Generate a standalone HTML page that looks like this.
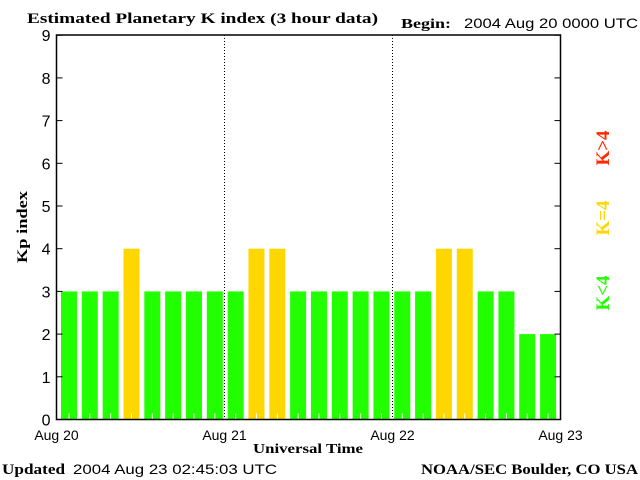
<!DOCTYPE html>
<html><head><meta charset="utf-8"><style>
body{margin:0;background:#fff;}
svg{display:block;}
.ser{font-family:"Liberation Serif",serif;font-weight:bold;}
.san{font-family:"Liberation Sans",sans-serif;}
</style></head><body>
<svg id="c" width="640" height="480" xmlns="http://www.w3.org/2000/svg">
<text class="ser" x="27" y="23" font-size="15" textLength="351" lengthAdjust="spacingAndGlyphs">Estimated Planetary K index (3 hour data)</text>
<text class="ser" x="401" y="28" font-size="14" textLength="50" lengthAdjust="spacingAndGlyphs">Begin:</text>
<text class="san" x="464" y="28" font-size="14" textLength="174" lengthAdjust="spacingAndGlyphs">2004 Aug 20 0000 UTC</text>
<g id="bars"></g>
<g id="axes"></g>
<text class="ser" x="0" y="0" font-size="15" transform="translate(27,227) rotate(-90)" text-anchor="middle" textLength="72" lengthAdjust="spacingAndGlyphs">Kp index</text>
<text class="ser" x="253" y="453" font-size="14" textLength="110" lengthAdjust="spacingAndGlyphs">Universal Time</text>
<text class="ser" x="2" y="474" font-size="15" textLength="63" lengthAdjust="spacingAndGlyphs">Updated</text>
<text class="san" x="73" y="474" font-size="14" textLength="204" lengthAdjust="spacingAndGlyphs">2004 Aug 23 02:45:03 UTC</text>
<text class="ser" x="421" y="474" font-size="15" textLength="217" lengthAdjust="spacingAndGlyphs">NOAA/SEC Boulder, CO USA</text>
<text class="ser" font-size="19" fill="#ff2a00" transform="translate(609,148) rotate(-90)" text-anchor="middle">K&gt;4</text>
<text class="ser" font-size="19" fill="#ffd700" transform="translate(609,218) rotate(-90)" text-anchor="middle">K=4</text>
<text class="ser" font-size="19" fill="#22ff00" transform="translate(609,293) rotate(-90)" text-anchor="middle">K&lt;4</text>
</svg>
<script>
const kpValues=[3,3,3,4,3,3,3,3,3,4,4,3,3,3,3,3,3,3,4,4,3,3,2,2];
const yTicks=[0,1,2,3,4,5,6,7,8,9];
const dayLabels=["Aug 20","Aug 21","Aug 22","Aug 23"];
const NS="http://www.w3.org/2000/svg";
const L=56.5,R=560.5,T=35,B=419.5;
const ys=v=>B-v*42.7;
const pitch=20.83;
const xs=i=>61+i*pitch;
function mk(t,a,p){const e=document.createElementNS(NS,t);for(const k in a)e.setAttribute(k,a[k]);p.appendChild(e);return e;}
const bars=document.getElementById('bars'),ax=document.getElementById('axes');
kpValues.forEach((v,i)=>{
 const col=v>4?'#ff2a00':(v==4?'#ffd700':'#22ff00');
 const r=mk('rect',{x:xs(i),y:ys(v),width:16,height:B-ys(v),fill:col},bars);
 
 
 const t=mk('line',{x1:xs(i)+8,x2:xs(i)+8,y1:B-6,y2:B,stroke:'#fff','stroke-width':1},bars);
 
 
});
const frame=mk('rect',{x:L,y:T,width:R-L,height:B-T,fill:'none',stroke:'#000','stroke-width':1.5},ax);


[1,2].forEach(d=>{
 const x=L+d*(R-L)/3;
 const l=mk('line',{x1:x,x2:x,y1:T,y2:B,stroke:'#000','stroke-dasharray':'1,2'},ax);
 
 
});
yTicks.forEach(v=>{
 const y=ys(v);
 const tk=mk('line',{x1:L,x2:L+6,y1:y,y2:y,stroke:'#000'},ax);
 
 
 const tr=mk('line',{x1:R-6,x2:R,y1:y,y2:y,stroke:'#000'},ax);
 
 
 const t=mk('text',{x:L-6,y:y+6,'font-size':16,'text-anchor':'end','class':'san'},ax);
 t.textContent=v;
 
 
});
dayLabels.forEach((s,d)=>{
 const t=mk('text',{x:L+d*(R-L)/3,y:440,'font-size':14,'text-anchor':'middle','class':'san'},ax);
 t.textContent=s;
 
 
});
</script>
</body></html>
